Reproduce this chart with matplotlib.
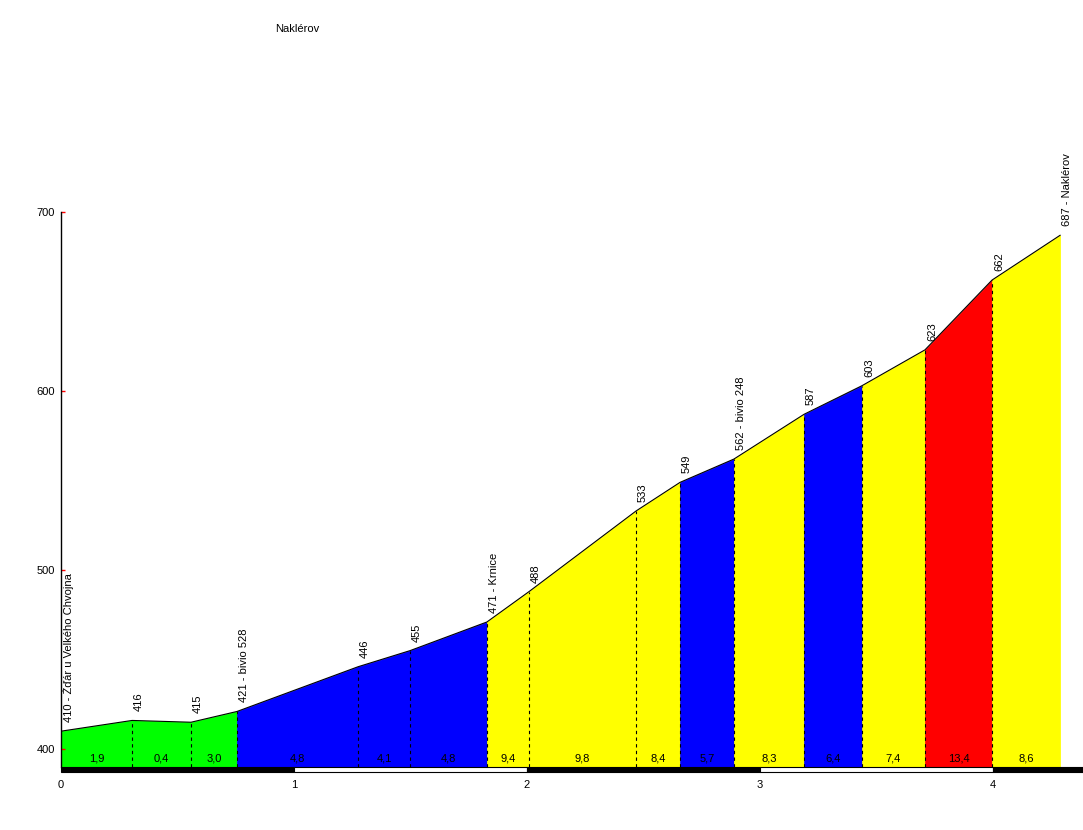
import numpy as np
import matplotlib.pyplot as plt
from matplotlib.patches import Rectangle
from matplotlib.transforms import offset_copy

plt.rcParams['font.family'] = ['Liberation Sans', 'DejaVu Sans']

# profil uspona (km, m)
dist = [0, 0.305, 0.558, 0.755, 1.275, 1.498, 1.828, 2.009, 2.468, 2.657,
        2.888, 3.189, 3.438, 3.708, 3.996, 4.288]
elev = [410, 416, 415, 421, 446, 455, 471, 488, 533, 549,
        562, 587, 603, 623, 662, 687]
names = ['Žďár u Velkého Chvojna', '', '', 'bivio 528', '', '', 'Krnice', '', '', '',
         'bivio 248', '', '', '', '', 'Naklérov']
grad = [1.9, 0.4, 3.0, 4.8, 4.1, 4.8, 9.4, 9.8, 8.4, 5.7, 8.3, 6.4, 7.4, 13.4, 8.6]
km_ticks = [0, 1, 2, 3, 4]
y_ticks = [400, 500, 600, 700]
title = 'Naklérov'


def boja(g):  # boja prema nagibu
    if g < 4:
        return '#00ff00'
    if g < 7:
        return '#0000ff'
    if g < 10:
        return '#ffff00'
    return '#ff0000'


W, H = 1083, 830
fig = plt.figure(figsize=(W / 100, H / 100), dpi=100)
ax = fig.add_axes([61 / W, 1 - 772 / H, 1 - 61 / W, 560 / H])
xmax = (W - 61) / 233
base = 390
bar_h = 2.8
ax.set_xlim(0, xmax)
ax.set_ylim(base - bar_h, 700)

for i in range(len(grad)):
    c = boja(grad[i])
    ax.fill_between(dist[i:i + 2], elev[i:i + 2], base, color=c, lw=0.5, edgecolor=c)
    ax.text((dist[i] + dist[i + 1]) / 2, base + 4.6, f"{grad[i]:.1f}".replace('.', ','),
            ha='center', va='center', fontsize=8)

ax.vlines(dist[1:-1], base, elev[1:-1], colors='k', linestyles=(0, (3, 3)), lw=0.8)
ax.plot(dist, elev, color='k', lw=0.8)

tr = offset_copy(ax.transData, fig=fig, x=7, y=9, units='dots')
for d, e, n in zip(dist, elev, names):
    s = f"{e} - {n}" if n else str(e)
    ax.text(d, e, s, rotation=90, ha='center', va='bottom', fontsize=8,
            transform=tr, clip_on=False)

# km traka na dnu
for k in range(5):
    w = min(1, xmax - k)
    ax.add_patch(Rectangle((k, base - bar_h), w, bar_h,
                           facecolor='k' if k % 2 == 0 else 'w',
                           edgecolor='k', lw=0.8, clip_on=False))

for s in ['top', 'right', 'bottom']:
    ax.spines[s].set_visible(False)
ax.spines['left'].set_bounds(base, 700)
ax.spines['left'].set_linewidth(1)

ax.set_yticks(y_ticks)
ax.set_xticks(km_ticks)
ax.tick_params(axis='y', direction='in', length=3, color='red', width=1, pad=4.3, labelsize=8)
ax.tick_params(axis='x', length=0, pad=5.8, labelsize=8)

fig.text(275 / W, 1 - 29 / H, title, fontsize=8, va='center')

fig.savefig('out.png', dpi=100)
